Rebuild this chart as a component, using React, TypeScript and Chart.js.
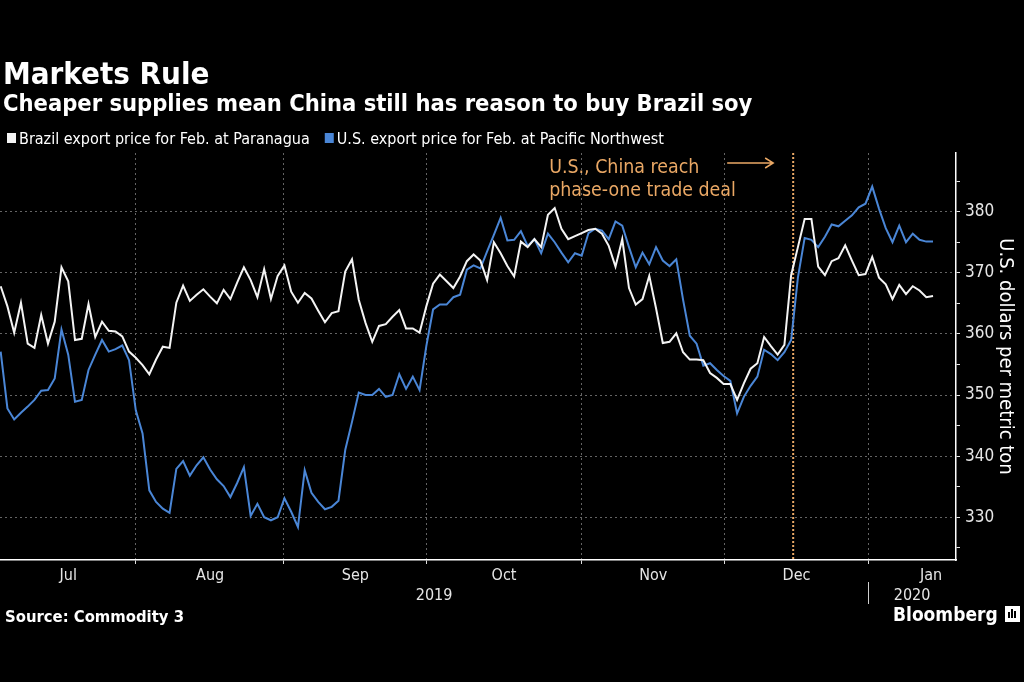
import { useEffect, useRef } from 'react';
import { Chart, registerables } from 'chart.js';

Chart.register(...registerables);

// Daily (weekday) export prices, USD per metric ton, early Jul 2019 – mid Jan 2020
const brazilPrice = [
  367.8, 364.5, 360.2, 365.1, 358.4, 357.7, 363.1, 358.4, 362.0, 370.9,
  368.6, 359.0, 359.2, 364.9, 359.5, 362.0, 360.5, 360.4, 359.6, 357.1,
  356.1, 354.9, 353.4, 355.8, 357.9, 357.7, 365.1, 367.9, 365.4, 366.4,
  367.3, 366.1, 365.0, 367.2, 365.7, 368.4, 370.9, 368.8, 366.0, 370.6,
  365.7, 369.5, 371.2, 366.9, 365.1, 366.7, 365.8, 363.8, 361.9, 363.4,
  363.7, 370.2, 372.2, 365.6, 361.8, 358.7, 361.3, 361.6, 362.8, 363.9,
  360.9, 360.9, 360.2, 364.5, 368.2, 369.7, 368.6, 367.5, 369.4, 371.9,
  373.0, 372.0, 368.8, 375.0, 373.2, 371.1, 369.4, 375.1, 374.2, 375.5,
  374.2, 379.5, 380.6, 377.2, 375.5, 376.0, 376.5, 377.0, 377.2, 376.4,
  374.4, 371.0, 375.5, 367.5, 364.8, 365.7, 369.5, 364.2, 358.5, 358.7,
  360.1, 357.0, 355.8, 355.8, 355.7, 353.6, 352.8, 351.8, 351.8, 349.2,
  351.9, 354.3, 355.2, 359.5, 358.0, 356.6, 358.2, 369.6, 374.2, 378.8,
  378.8, 371.0, 369.6, 371.9, 372.4, 374.5, 372.0, 369.6, 369.8, 372.6,
  369.2, 368.1, 365.7, 368.0, 366.5, 367.8, 367.1, 366.0, 366.2,
];

const usPrice = [
  357.1, 347.8, 346.0, 347.1, 348.1, 349.2, 350.7, 350.8, 352.7, 360.7,
  356.6, 348.9, 349.2, 354.1, 356.6, 359.0, 357.1, 357.5, 358.1, 355.7,
  347.5, 343.7, 334.4, 332.5, 331.4, 330.7, 337.9, 339.2, 336.8, 338.5,
  339.8, 337.8, 336.2, 335.1, 333.3, 335.6, 338.2, 330.2, 332.2, 330.0,
  329.5, 330.0, 333.1, 330.9, 328.4, 337.7, 334.0, 332.5, 331.3, 331.7,
  332.7, 341.0, 345.6, 350.4, 350.0, 350.0, 351.0, 349.7, 350.0, 353.4,
  351.0, 353.0, 350.8, 358.0, 364.0, 364.8, 364.8, 366.0, 366.4, 370.5,
  371.2, 370.7, 373.5, 376.2, 379.0, 375.3, 375.4, 376.8, 374.4, 375.5,
  373.2, 376.4, 375.0, 373.3, 371.7, 373.2, 372.8, 376.5, 377.2, 376.9,
  375.5, 378.4, 377.7, 374.2, 370.9, 373.3, 371.4, 374.2, 372.0, 371.1,
  372.2, 365.6, 359.7, 358.4, 354.8, 355.2, 354.1, 353.1, 352.3, 347.0,
  349.7, 351.5, 353.0, 357.4, 356.7, 355.7, 357.0, 359.0, 369.2, 375.7,
  375.4, 374.2, 375.9, 377.9, 377.6, 378.5, 379.4, 380.7, 381.3, 384.1,
  380.5, 377.3, 375.0, 377.7, 375.0, 376.4, 375.4, 375.1, 375.1,
];

const seriesNames = [
  'Brazil export price for Feb. at Paranagua',
  'U.S. export price for Feb. at Pacific Northwest',
];

// x axis (weekday index): month boundaries and month label positions
const monthStarts = [20.0, 41.9, 63.1, 86.0, 107.2, 128.4];
const monthLabels = ['Jul', 'Aug', 'Sep', 'Oct', 'Nov', 'Dec', 'Jan'];
const monthLabelAt = [10, 31, 52.5, 74.5, 96.6, 117.8, 137.7];
const yearLabels = ['2019', '2020'];
const dealAt = 117.3;
const dealText = ['U.S., China reach', 'phase-one trade deal'];

const xMin = -0.1;
const xMax = 141.4;
const yMin = 323;
const yMax = 389.6;

const WHITE = '#f4f4f4';
const BLUE = '#4a86d6';
const ORANGE = '#eaa865';
const GRID = '#646464';
const FONT = '"DejaVu Sans Condensed", "DejaVu Sans", sans-serif';

const overlayPlugin = {
  id: 'overlay',
  beforeDraw(chart: any) {
    const { ctx, width, height } = chart;
    ctx.save();
    ctx.fillStyle = '#000';
    ctx.fillRect(0, 0, width, height);
    ctx.restore();
  },
  beforeDatasetsDraw(chart: any) {
    const { ctx, chartArea, scales } = chart;
    const x = scales.x.getPixelForValue(dealAt);
    ctx.save();
    ctx.strokeStyle = ORANGE;
    ctx.lineWidth = 2;
    ctx.setLineDash([2, 2]);
    ctx.beginPath();
    ctx.moveTo(x, chartArea.top);
    ctx.lineTo(x, chartArea.bottom);
    ctx.stroke();
    ctx.restore();
  },
  afterDraw(chart: any) {
    const { ctx, chartArea, scales } = chart;
    ctx.save();
    ctx.textBaseline = 'alphabetic';
    ctx.textAlign = 'left';
    ctx.fillStyle = '#fff';
    ctx.font = `bold 31px ${FONT}`;
    ctx.fillText('Markets Rule', 3, 84);
    ctx.font = `bold 23.5px ${FONT}`;
    ctx.fillText('Cheaper supplies mean China still has reason to buy Brazil soy', 3, 111);

    // legend
    ctx.font = `16px ${FONT}`;
    const ds = chart.data.datasets;
    let lx = 7;
    ds.forEach((d: any) => {
      ctx.fillStyle = d.borderColor;
      ctx.fillRect(lx, 133, 9, 10);
      ctx.fillStyle = '#fff';
      ctx.fillText(d.label, lx + 12, 144);
      lx += 12 + ctx.measureText(d.label).width + 15;
    });

    // annotation
    const dx = scales.x.getPixelForValue(dealAt);
    ctx.fillStyle = ORANGE;
    ctx.font = `19.4px ${FONT}`;
    ctx.fillText(dealText[0], dx - 244, 173);
    ctx.fillText(dealText[1], dx - 244, 196);
    ctx.strokeStyle = ORANGE;
    ctx.lineWidth = 1.5;
    ctx.beginPath();
    ctx.moveTo(dx - 66, 163);
    ctx.lineTo(dx - 20, 163);
    ctx.moveTo(dx - 28, 158);
    ctx.lineTo(dx - 20, 163);
    ctx.lineTo(dx - 28, 168);
    ctx.stroke();

    // year row
    const janX = scales.x.getPixelForValue(monthStarts[monthStarts.length - 1]);
    ctx.fillStyle = '#e6e6e6';
    ctx.font = `16px ${FONT}`;
    ctx.textAlign = 'center';
    ctx.fillText(yearLabels[0], (chartArea.left + janX) / 2, 600);
    ctx.fillText(yearLabels[1], (janX + chartArea.right) / 2, 600);
    ctx.strokeStyle = '#cfcfcf';
    ctx.lineWidth = 1;
    ctx.beginPath();
    ctx.moveTo(Math.round(janX) + 0.5, 582);
    ctx.lineTo(Math.round(janX) + 0.5, 604);
    ctx.stroke();

    // footer
    ctx.textAlign = 'left';
    ctx.fillStyle = '#fff';
    ctx.font = `bold 16.5px ${FONT}`;
    ctx.fillText('Source: Commodity 3', 5, 622);
    ctx.font = `bold 19px ${FONT}`;
    ctx.fillText('Bloomberg', 893, 621);
    ctx.fillStyle = '#fff';
    ctx.fillRect(1005, 606, 15, 16);
    ctx.fillStyle = '#000';
    ctx.fillRect(1008, 612, 2, 6);
    ctx.fillRect(1011, 609, 2, 9);
    ctx.fillRect(1014, 611, 2, 7);
    ctx.restore();
  },
};

export default function App() {
  const canvasRef = useRef<HTMLCanvasElement | null>(null);

  useEffect(() => {
    const canvas = canvasRef.current;
    if (!canvas) return;
    const nB = monthStarts.length;
    const chart = new Chart(canvas, {
      type: 'line',
      data: {
        datasets: [
          {
            label: seriesNames[0],
            data: brazilPrice.map((y, i) => ({ x: i, y })),
            borderColor: WHITE,
            backgroundColor: WHITE,
            borderWidth: 2,
            pointRadius: 0,
            tension: 0,
          },
          {
            label: seriesNames[1],
            data: usPrice.map((y, i) => ({ x: i, y })),
            borderColor: BLUE,
            backgroundColor: BLUE,
            borderWidth: 2,
            pointRadius: 0,
            tension: 0,
          },
        ],
      },
      options: {
        responsive: false,
        animation: false,
        layout: { padding: { top: 153, left: 0, right: 0, bottom: 0 } },
        plugins: { legend: { display: false }, tooltip: { enabled: false } },
        scales: {
          x: {
            type: 'linear',
            min: xMin,
            max: xMax,
            afterBuildTicks: (scale: any) => {
              scale.ticks = [...monthStarts, ...monthLabelAt].map((v) => ({ value: v }));
            },
            afterFit: (scale: any) => {
              scale.height = 122;
            },
            grid: {
              color: (c: any) => (c.index < nB ? GRID : 'rgba(0,0,0,0)'),
              tickColor: (c: any) => (c.index < nB ? '#dddddd' : 'rgba(0,0,0,0)'),
              tickLength: 4,
              lineWidth: 1,
            },
            border: { display: true, color: '#ffffff', width: 1.5, dash: [2, 3] },
            ticks: {
              autoSkip: false,
              maxRotation: 0,
              padding: 2,
              color: '#e6e6e6',
              font: { family: FONT, size: 16 },
              callback: (_v: any, i: number) => (i < nB ? '' : monthLabels[i - nB]),
            },
          },
          y: {
            position: 'right',
            min: yMin,
            max: yMax,
            afterFit: (scale: any) => {
              scale.width = 68;
            },
            grid: {
              color: (c: any) => (c.tick && c.tick.value % 10 === 0 ? GRID : 'rgba(0,0,0,0)'),
              tickColor: '#e6e6e6',
              tickLength: 4,
              lineWidth: 1,
            },
            border: { display: true, color: '#ffffff', width: 1.5, dash: [2, 3] },
            ticks: {
              stepSize: 5,
              includeBounds: false,
              padding: 5,
              color: '#e6e6e6',
              font: { family: FONT, size: 17 },
              callback: (v: any) => (Number(v) % 10 === 0 ? String(v) : ''),
            },
            title: {
              display: true,
              text: 'U.S. dollars per metric ton',
              color: '#ffffff',
              font: { family: FONT, size: 20 },
              padding: { top: 7, bottom: 0 },
            },
          },
        },
      },
      plugins: [overlayPlugin],
    } as any);
    return () => chart.destroy();
  }, []);

  return (
    <div style={{ position: 'fixed', left: 0, top: 0, width: 1024, height: 682, background: '#000' }}>
      <canvas ref={canvasRef} width={1024} height={682} style={{ display: 'block', width: 1024, height: 682 }} />
    </div>
  );
}
